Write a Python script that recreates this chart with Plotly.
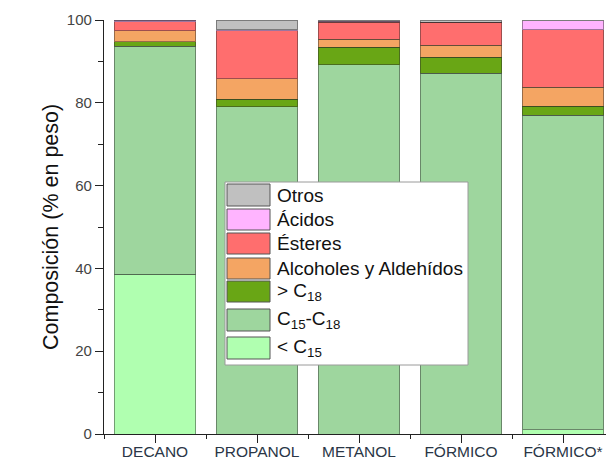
import plotly.graph_objects as go

categories = ["DECANO", "PROPANOL", "METANOL", "FÓRMICO", "FÓRMICO*"]

series_names = ["< C<sub>15</sub>", "C<sub>15</sub>-C<sub>18</sub>", "> C<sub>18</sub>",
                "Alcoholes y Aldehídos", "Ésteres", "Ácidos", "Otros"]

lt_c15 = [38.6, 0.0, 0.0, 0.0, 1.0]
c15_c18 = [55.1, 79.1, 89.2, 87.1, 76.0]
gt_c18 = [1.1, 1.8, 4.2, 3.9, 2.2]
alcoholes = [2.6, 4.9, 2.0, 2.9, 4.5]
esteres = [2.2, 11.6, 4.0, 5.5, 13.9]
acidos = [0.3, 0.2, 0.3, 0.0, 2.2]
otros = [0.1, 2.4, 0.3, 0.6, 0.2]

series_values = [lt_c15, c15_c18, gt_c18, alcoholes, esteres, acidos, otros]
colors = ["#b0ffb0", "#9ed69e", "#69a615", "#f4a563", "#ff6e6e", "#ffb4ff", "#c0c0c0"]

FONT = "Arial, Liberation Sans, sans-serif"

fig = go.Figure()
xs = list(range(len(categories)))
for name, vals, col in zip(series_names, series_values, colors):
    fig.add_trace(go.Bar(
        x=xs, y=vals, name=name, width=0.8,
        marker=dict(color=col, line=dict(color="rgba(40,40,40,0.45)", width=1)),
        showlegend=False,
    ))

# page has an 8px body margin; plot area in page pixels:
OFF = 8
L, R, T, B = 104, 614, 20, 434
W, H = 614 - OFF, 460 - OFF
def px(x):
    return (x - L) / (R - L)
def py(y):
    return (B - y) / (B - T)

shapes = [dict(type="rect", xref="paper", yref="paper",
               x0=px(225), x1=px(468), y0=py(365), y1=py(182),
               fillcolor="white", line=dict(color="#9a9a9a", width=1), layer="above")]
annotations = []
rows = [(337, 359), (309, 331), (281, 302), (258, 279), (233, 254), (209, 230), (184, 206)]
for (t, b), name, col in zip(rows, series_names, colors):
    shapes.append(dict(type="rect", xref="paper", yref="paper",
                       x0=px(227), x1=px(270), y0=py(b), y1=py(t),
                       fillcolor=col, line=dict(color="#555555", width=1), layer="above"))
    annotations.append(dict(xref="paper", yref="paper", x=px(275), y=py((t + b) / 2),
                            text=name, showarrow=False, xanchor="left", yanchor="middle",
                            font=dict(family=FONT, size=19, color="#111111")))

annotations.append(dict(xref="paper", yref="paper", x=px(51), y=0.5,
                        text="Composición (% en peso)", textangle=-90, showarrow=False,
                        xanchor="center", yanchor="middle",
                        font=dict(family=FONT, size=21.5, color="#111111")))

fig.update_layout(
    width=W, height=H,
    margin=dict(l=L - OFF, r=(W + OFF) - R, t=T - OFF, b=(H + OFF) - B),
    barmode="stack",
    plot_bgcolor="white", paper_bgcolor="white",
    shapes=shapes, annotations=annotations,
    font=dict(family=FONT),
)
fig.update_xaxes(
    range=[-0.5, 4.5], tickvals=xs, ticktext=categories, automargin=False,
    showline=True, linecolor="#222222", linewidth=1.3,
    ticks="outside", ticklen=8, tickcolor="#222222",
    minor=dict(tick0=0.5, dtick=1, ticks="outside", ticklen=4, tickcolor="#222222"),
    tickfont=dict(family=FONT, size=15.5, color="#2a3646"),
    ticklabelstandoff=-5,
    showgrid=False, zeroline=False,
)
fig.update_yaxes(
    range=[0, 100], dtick=20, automargin=False,
    showline=True, linecolor="#222222", linewidth=1.3,
    ticks="outside", ticklen=8, tickcolor="#222222",
    minor=dict(dtick=10, ticks="outside", ticklen=5, tickcolor="#222222"),
    tickfont=dict(family=FONT, size=15, color="#444444"),
    showgrid=False, zeroline=False,
)

fig.write_html("out.html")
